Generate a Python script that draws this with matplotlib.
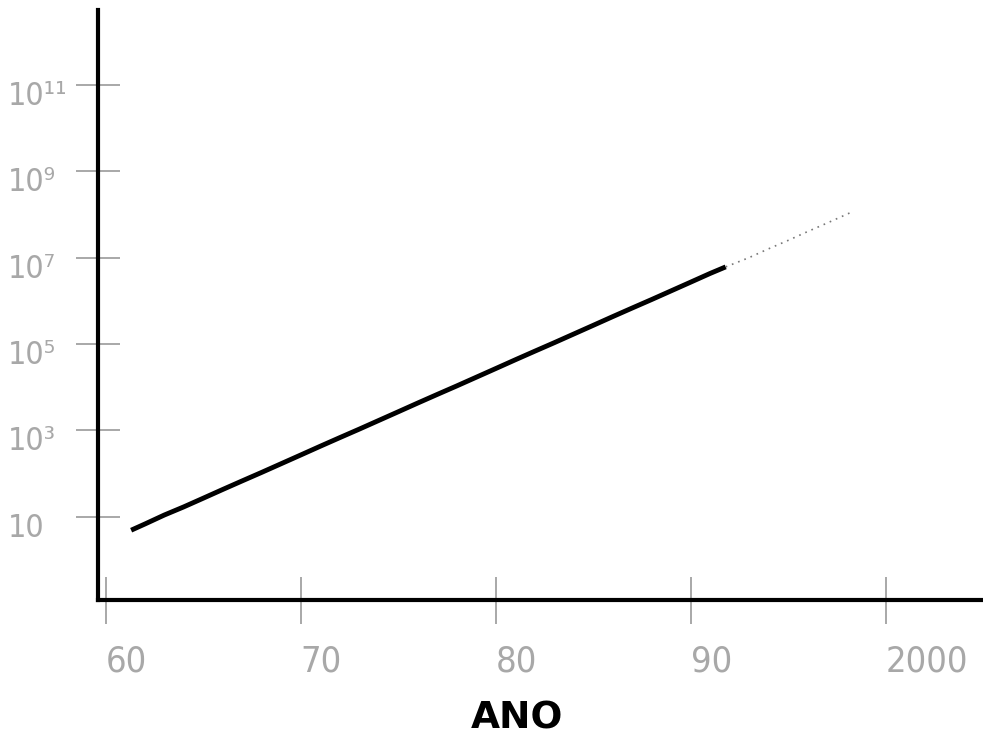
import matplotlib
matplotlib.use("Agg")
import matplotlib.pyplot as plt
from matplotlib.transforms import ScaledTranslation

# data (log scale)
years_solid = [1961.3, 1962, 1963, 1964, 1965, 1966, 1967, 1968, 1969, 1970,
               1971, 1972, 1973, 1974, 1975, 1976, 1977, 1978, 1979, 1980,
               1981, 1982, 1983, 1984, 1985, 1986, 1987, 1988, 1989, 1990,
               1991, 1991.8]
values_solid = [4.9, 6.8, 11, 17, 27, 43, 68, 107, 170, 270,
                430, 680, 1070, 1700, 2700, 4300, 6800, 10700, 17000, 27000,
                43000, 68000, 107000, 170000, 270000, 430000, 680000, 1.07e6, 1.7e6, 2.7e6,
                4.3e6, 6.1e6]
years_dotted = [1991.8, 1993, 1994, 1995, 1996, 1997, 1998.2]
values_dotted = [6.1e6, 1.0e7, 1.6e7, 2.5e7, 4.0e7, 6.3e7, 1.1e8]

x_ticks = [1960, 1970, 1980, 1990, 2000]
x_labels = ["60", "70", "80", "90", "2000"]
y_ticks = [1e1, 1e3, 1e5, 1e7, 1e9, 1e11]
y_labels = ["10", "10\u00b3", "10\u2075", "10\u2077", "10\u2079", "10\u00b9\u00b9"]

grey = "#a8a8a8"

fig = plt.figure(figsize=(9.83, 7.41), dpi=100)
ax = fig.add_axes([0.0997, 0.19, 0.9003, 0.797])

ax.plot(years_solid, values_solid, color="black", lw=3.5, solid_capstyle="butt")
ax.plot(years_dotted, values_dotted, color="#777777", lw=1.2, ls=(0, (1, 3)))

ax.set_yscale("log")
ax.set_xlim(1959.6, 2005)
ax.set_ylim(10 ** -0.93, 10 ** 12.74)
ax.minorticks_off()

ax.set_xticks(x_ticks)
ax.set_xticklabels(x_labels, fontsize=26, color=grey, fontstretch="condensed",
                   ha="left")
ax.set_yticks(y_ticks)
ax.set_yticklabels(y_labels, fontsize=23, color=grey, fontstretch="condensed",
                   ha="left")

ax.tick_params(axis="y", direction="inout", length=32, width=1.2,
               color="#999999", pad=49)
ax.tick_params(axis="x", length=0, pad=32)

# x ticks cross the axis line in the scan
ax.vlines(x_ticks, -0.04, 0.04, transform=ax.get_xaxis_transform(),
          colors="#999999", lw=1.2, clip_on=False, zorder=1)

# labels in the scan sit a little below their ticks
shift = ScaledTranslation(0, -8 / 100, fig.dpi_scale_trans)
for lab in ax.get_yticklabels():
    lab.set_transform(lab.get_transform() + shift)

for s in ["top", "right"]:
    ax.spines[s].set_visible(False)
for s in ["left", "bottom"]:
    ax.spines[s].set_linewidth(3)
    ax.spines[s].set_color("black")

fig.text(0.526, 0.031, "ANO", ha="center", va="center", fontsize=27,
         fontweight="bold", color="black")

fig.savefig("out.png", dpi=100)
